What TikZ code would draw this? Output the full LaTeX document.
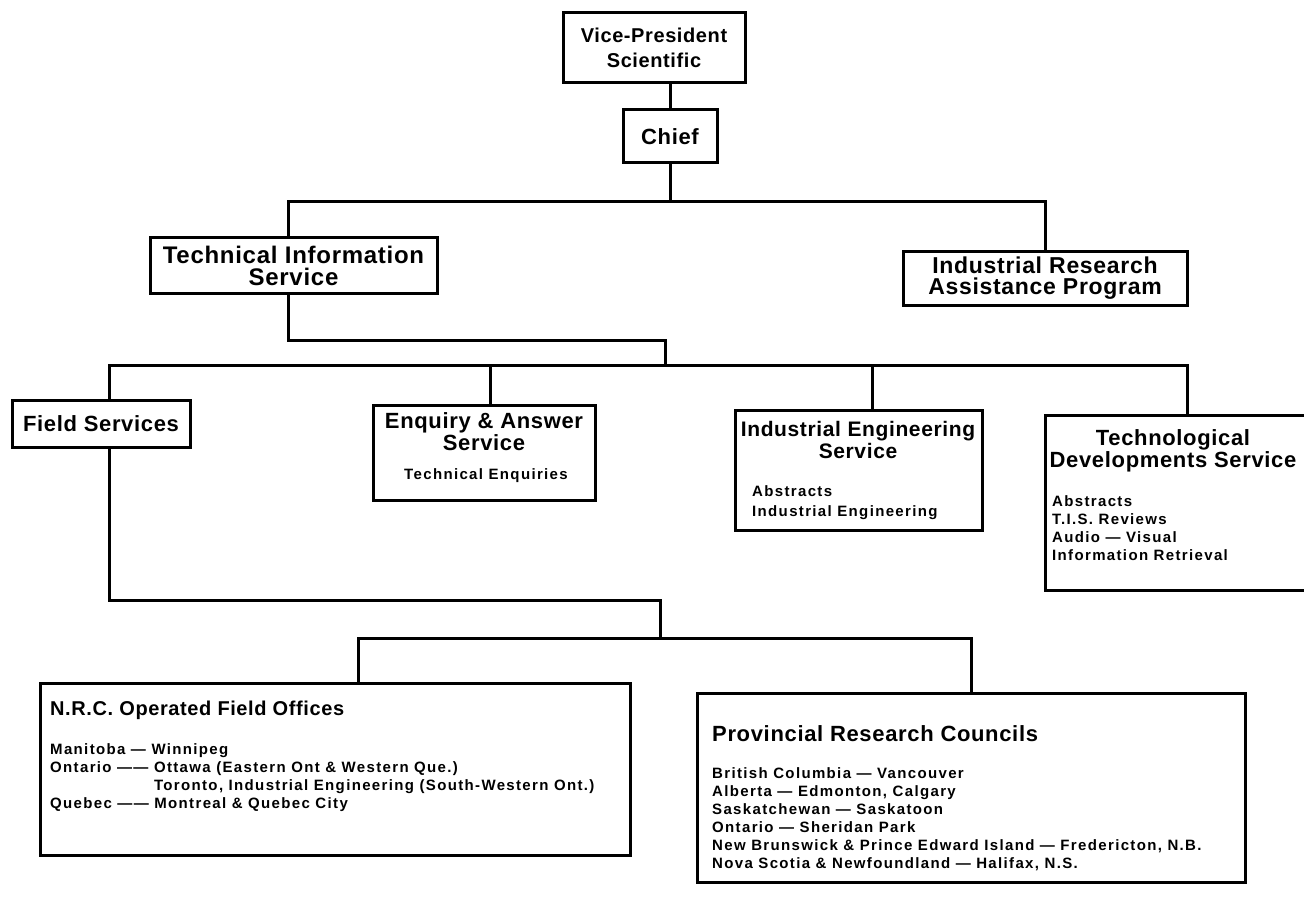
\documentclass[tikz,border=0pt]{standalone}
\usepackage{fontspec}
\newfontfamily\ttlfont[LetterSpace=3]{Liberation Sans}
\newfontfamily\lstfont[LetterSpace=9]{Liberation Sans}
\usetikzlibrary{calc}
\tikzstyle{orgbox}=[draw=black,line width=3pt,inner sep=0pt,align=center,font=\ttlfont\bfseries\fontsize{22}{22}\selectfont]
\tikzstyle{orgline}=[draw=black,line width=3pt]
\tikzstyle{ttl}=[inner sep=0pt,align=center,font=\ttlfont\bfseries\fontsize{22}{22}\selectfont]
\tikzstyle{lst}=[inner sep=0pt,align=left,font=\lstfont\bfseries\fontsize{15}{18}\selectfont]

\begin{document}
\begin{tikzpicture}[x=1pt,y=-1pt]
    \useasboundingbox (0,0) rectangle (1304,920);
    \clip (0,0) rectangle (1304,920);

    % top levels
    \node[orgbox,minimum width=182pt,minimum height=70pt,font=\ttlfont\bfseries\fontsize{20}{25}\selectfont] (vp) at (654,48) {Vice-President\\Scientific};
    \node[orgbox,minimum width=94pt,minimum height=53pt] (chief) at (670,136.5) {Chief};
    \node[orgbox,minimum width=287pt,minimum height=55pt,font=\ttlfont\bfseries\fontsize{24}{22}\selectfont] (tis) at (293.5,265.5) {Technical Information\\Service};
    \node[orgbox,minimum width=284pt,minimum height=53pt,font=\ttlfont\bfseries\fontsize{23}{21}\selectfont] (irap) at (1045,278.5) {Industrial Research\\Assistance Program};

    % services
    \node[orgbox,minimum width=178pt,minimum height=47pt] (field) at (101,423.5) {Field Services};
    \node[orgbox,minimum width=222pt,minimum height=95pt] (enq) at (484,452.5) {};
    \node[orgbox,minimum width=247pt,minimum height=120pt] (ies) at (858.5,470) {};
    \node[orgbox,minimum width=285pt,minimum height=175pt] (tds) at (1187.5,502.5) {};

    \node[ttl,anchor=north] (enqttl) at (484,412) {Enquiry \& Answer\\Service};
    \node[lst] (enqlst) at (486,476) {Technical Enquiries};
    \node[ttl,anchor=north,font=\ttlfont\bfseries\fontsize{21}{22}\selectfont] (iesttl) at (858,421) {Industrial Engineering\\Service};
    \node[lst,anchor=north west,font=\lstfont\bfseries\fontsize{15}{20}\selectfont] (ieslst) at (752,485) {Abstracts\\Industrial Engineering};
    \node[ttl,anchor=north] (tdsttl) at (1173,429) {Technological\\Developments Service};
    \node[lst,anchor=north west] (tdslst) at (1052,495) {Abstracts\\T.I.S. Reviews\\Audio — Visual\\Information Retrieval};

    % field offices
    \node[orgbox,minimum width=590pt,minimum height=172pt] (nrc) at (335,769) {};
    \node[orgbox,minimum width=548pt,minimum height=189pt] (prc) at (971,787.5) {};

    \node[ttl,anchor=base west,font=\ttlfont\bfseries\fontsize{20}{22}\selectfont] (nrcttl) at (50,715) {N.R.C. Operated Field Offices};
    \node[lst,anchor=north west] (nrclst) at (50,743) {Manitoba — Winnipeg\\
        Ontario —— Ottawa (Eastern Ont \& Western Que.)\\
        \hphantom{Ontario —— }Toronto, Industrial Engineering (South-Western Ont.)\\
        Quebec —— Montreal \& Quebec City};
    \node[ttl,anchor=base west] (prcttl) at (712,741) {Provincial Research Councils};
    \node[lst,anchor=north west] (prclst) at (712,767) {British Columbia — Vancouver\\
        Alberta — Edmonton, Calgary\\
        Saskatchewan — Saskatoon\\
        Ontario — Sheridan Park\\
        New Brunswick \& Prince Edward Island — Fredericton, N.B.\\
        Nova Scotia \& Newfoundland — Halifax, N.S.};

    % connectors
    \coordinate (j1) at (670,202);
    \coordinate (j2) at (665,340);
    \coordinate (j3) at (665,365);
    \coordinate (j4) at (660,600);
    \coordinate (j5) at (660,638);
    \draw[orgline] (chief.north) -- (chief.north |- vp.south);
    \draw[orgline] (chief.south) -- (j1);
    \draw[orgline] ([xshift=-5pt]tis.north) |- (j1) -| (irap.north);
    \draw[orgline] ([xshift=-5pt]tis.south) |- (j2) -- (j3);
    \draw[orgline] ([xshift=8pt]field.north) |- (j3) -| (tds.north);
    \draw[orgline] ([xshift=6pt]enq.north) -- ([xshift=6pt]enq.north |- j3);
    \draw[orgline] ([xshift=14pt]ies.north) -- ([xshift=14pt]ies.north |- j3);
    \draw[orgline] ([xshift=8pt]field.south) |- (j4) -- (j5);
    \draw[orgline] ([xshift=23pt]nrc.north) |- (j5) -| (prc.north);
\end{tikzpicture}
\end{document}
